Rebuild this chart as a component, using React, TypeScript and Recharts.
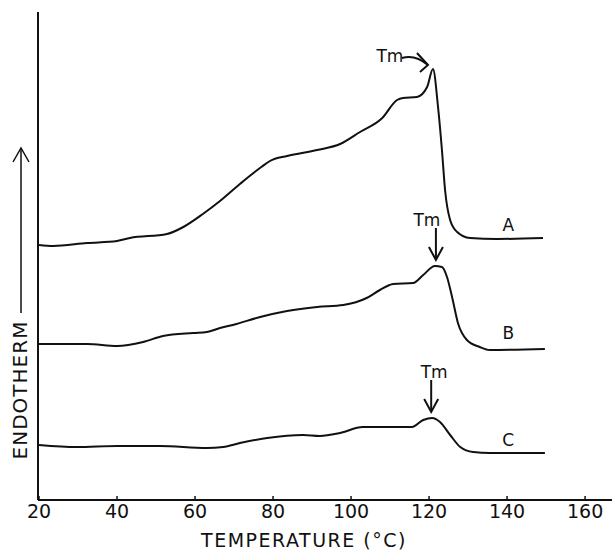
import { LineChart, Line, XAxis, YAxis, ReferenceDot } from 'recharts'

// DSC traces (arbitrary endotherm units, curves stacked)
const curveA = [
  { t: 20, v: 255 }, { t: 23.6, v: 254 }, { t: 32.3, v: 257 }, { t: 40, v: 259 },
  { t: 43.3, v: 262 }, { t: 52.8, v: 266 }, { t: 57, v: 273 }, { t: 62, v: 286 },
  { t: 66.4, v: 299 }, { t: 71.5, v: 316 }, { t: 77, v: 333 }, { t: 79.2, v: 339 },
  { t: 83.6, v: 344 },
  { t: 91.3, v: 350 }, { t: 97.2, v: 356 }, { t: 102.3, v: 368 }, { t: 108, v: 382 },
  { t: 111.8, v: 400 }, { t: 113.3, v: 402 }, { t: 116.9, v: 403 }, { t: 119.5, v: 413 },
  { t: 121, v: 431 }, { t: 122.3, v: 393 }, { t: 123.3, v: 350 }, { t: 124.1, v: 310 },
  { t: 125.4, v: 280 }, { t: 127.2, v: 268 }, { t: 130.5, v: 262 }, { t: 137.4, v: 261 },
  { t: 149.2, v: 262 },
]

const curveB = [
  { t: 20, v: 156 }, { t: 32.3, v: 156 }, { t: 40, v: 154 }, { t: 46.7, v: 158 },
  { t: 51.8, v: 164 }, { t: 59.5, v: 167 }, { t: 63, v: 168 }, { t: 66.4, v: 172 },
  { t: 69.7, v: 175 }, { t: 76.7, v: 183 }, { t: 83.6, v: 189 }, { t: 91.3, v: 193 },
  { t: 98, v: 195 }, { t: 104, v: 202 }, { t: 107.4, v: 210 }, { t: 110.8, v: 216 },
  { t: 115.9, v: 217 }, { t: 118.5, v: 225 }, { t: 121.5, v: 234 }, { t: 123.3, v: 233 },
  { t: 124.6, v: 223 }, { t: 125.9, v: 203 }, { t: 127.4, v: 177 }, { t: 129.7, v: 160 },
  { t: 133, v: 153 }, { t: 135.6, v: 150 }, { t: 149.7, v: 151 },
]

const curveC = [
  { t: 20, v: 55 }, { t: 29.7, v: 53 }, { t: 40, v: 54 }, { t: 51, v: 54 },
  { t: 63, v: 52 }, { t: 67.2, v: 53 }, { t: 71.5, v: 57 }, { t: 78.5, v: 62 },
  { t: 87.7, v: 65 }, { t: 92, v: 64 }, { t: 97.2, v: 67 }, { t: 103, v: 73 },
  { t: 107.4, v: 73 }, { t: 112.6, v: 73 }, { t: 115.6, v: 73 }, { t: 118.5, v: 80 },
  { t: 120.8, v: 82 }, { t: 122.8, v: 78 }, { t: 125.4, v: 65 }, { t: 128, v: 53 },
  { t: 131.3, v: 48 }, { t: 135.6, v: 47 }, { t: 149.7, v: 47 },
]

const xTicks = [20, 40, 60, 80, 100, 120, 140, 160]

// peak positions (Tm) and curve name positions
const peaks = [
  { name: 'A', t: 121, v: 431 },
  { name: 'B', t: 121.5, v: 234 },
  { name: 'C', t: 120.8, v: 82 },
]
const curveLabels = [
  { name: 'A', t: 140.3, v: 275 },
  { name: 'B', t: 140.3, v: 167 },
  { name: 'C', t: 140.3, v: 60 },
]

const INK = '#111'
const FONT = '"DejaVu Sans", sans-serif'

function XTick({ x, y, payload }: any) {
  return (
    <g>
      <line x1={x} y1={y} x2={x} y2={y - 4} stroke={INK} strokeWidth={1.5} />
      <text x={x} y={y + 18} textAnchor="middle" fill={INK} fontSize={19} fontFamily={FONT}>
        {payload.value}
      </text>
    </g>
  )
}

// curved arrow for A, straight down arrows for B and C
function TmMark(name: string) {
  return ({ cx, cy }: any) => {
    if (name === 'A') {
      return (
        <g stroke={INK} strokeWidth={2} fill="none">
          <text x={cx - 43} y={cy - 13} textAnchor="middle" dominantBaseline="central"
            fill={INK} stroke="none" fontSize={17} fontFamily={FONT}>Tm</text>
          <path d={`M${cx - 31},${cy - 11} Q${cx - 18},${cy - 15} ${cx - 5},${cy - 4}`} />
          <path d={`M${cx - 16},${cy - 16} L${cx - 5},${cy - 4} L${cx - 13},${cy + 3}`} />
        </g>
      )
    }
    const dx = name === 'B' ? 1 : -1
    const tx = name === 'B' ? -8 : 2
    return (
      <g stroke={INK} strokeWidth={2} fill="none">
        <text x={cx + tx} y={cy - 46} textAnchor="middle" dominantBaseline="central"
          fill={INK} stroke="none" fontSize={17} fontFamily={FONT}>Tm</text>
        <line x1={cx + dx} y1={cy - 38} x2={cx + dx} y2={cy - 6} />
        <path d={`M${cx + dx - 7},${cy - 19} L${cx + dx},${cy - 6} L${cx + dx + 7},${cy - 19}`} />
      </g>
    )
  }
}

function CurveName(name: string) {
  return ({ cx, cy }: any) => (
    <text x={cx} y={cy} textAnchor="middle" dominantBaseline="central"
      fill={INK} fontSize={17} fontFamily={FONT}>{name}</text>
  )
}

function EndothermLabel() {
  return (
    <g>
      <text x={20} y={390} transform="rotate(-90 20 390)" textAnchor="middle"
        dominantBaseline="central" fill={INK} fontSize={20} letterSpacing={1}
        fontFamily={FONT}>ENDOTHERM</text>
      <line x1={21} y1={313} x2={21} y2={149} stroke={INK} strokeWidth={1.5} />
      <path d="M13,162 L21,148 L29,162" stroke={INK} strokeWidth={1.5} fill="none" />
    </g>
  )
}

function TempLabel() {
  return (
    <text x={304} y={540} textAnchor="middle" dominantBaseline="central" fill={INK}
      fontSize={19} letterSpacing={1.5} fontFamily={FONT}>TEMPERATURE (°C)</text>
  )
}

export default function App() {
  return (
    <div style={{ position: 'absolute', left: 0, top: 0, background: '#fff' }}>
      <LineChart width={614} height={552} margin={{ top: 12, right: 2, bottom: 22, left: 0 }}>
        <XAxis
          dataKey="t"
          type="number"
          domain={[19.74, 166.9]}
          allowDataOverflow
          ticks={xTicks}
          interval={0}
          tick={<XTick />}
          tickLine={false}
          tickSize={0}
          tickMargin={0}
          height={30}
          axisLine={{ stroke: INK, strokeWidth: 2 }}
          label={{ content: <TempLabel /> }}
        />
        <YAxis
          type="number"
          domain={[0, 488]}
          allowDataOverflow
          width={38}
          tick={false}
          tickLine={false}
          axisLine={{ stroke: INK, strokeWidth: 2 }}
          label={{ content: <EndothermLabel /> }}
        />
        <Line data={curveA} dataKey="v" type="monotone" stroke={INK} strokeWidth={2}
          dot={false} isAnimationActive={false} />
        <Line data={curveB} dataKey="v" type="monotone" stroke={INK} strokeWidth={2}
          dot={false} isAnimationActive={false} />
        <Line data={curveC} dataKey="v" type="monotone" stroke={INK} strokeWidth={2}
          dot={false} isAnimationActive={false} />
        {peaks.map((p) => (
          <ReferenceDot key={'tm' + p.name} x={p.t} y={p.v} r={0} shape={TmMark(p.name)} />
        ))}
        {curveLabels.map((c) => (
          <ReferenceDot key={'lb' + c.name} x={c.t} y={c.v} r={0} shape={CurveName(c.name)} />
        ))}
      </LineChart>
    </div>
  )
}
